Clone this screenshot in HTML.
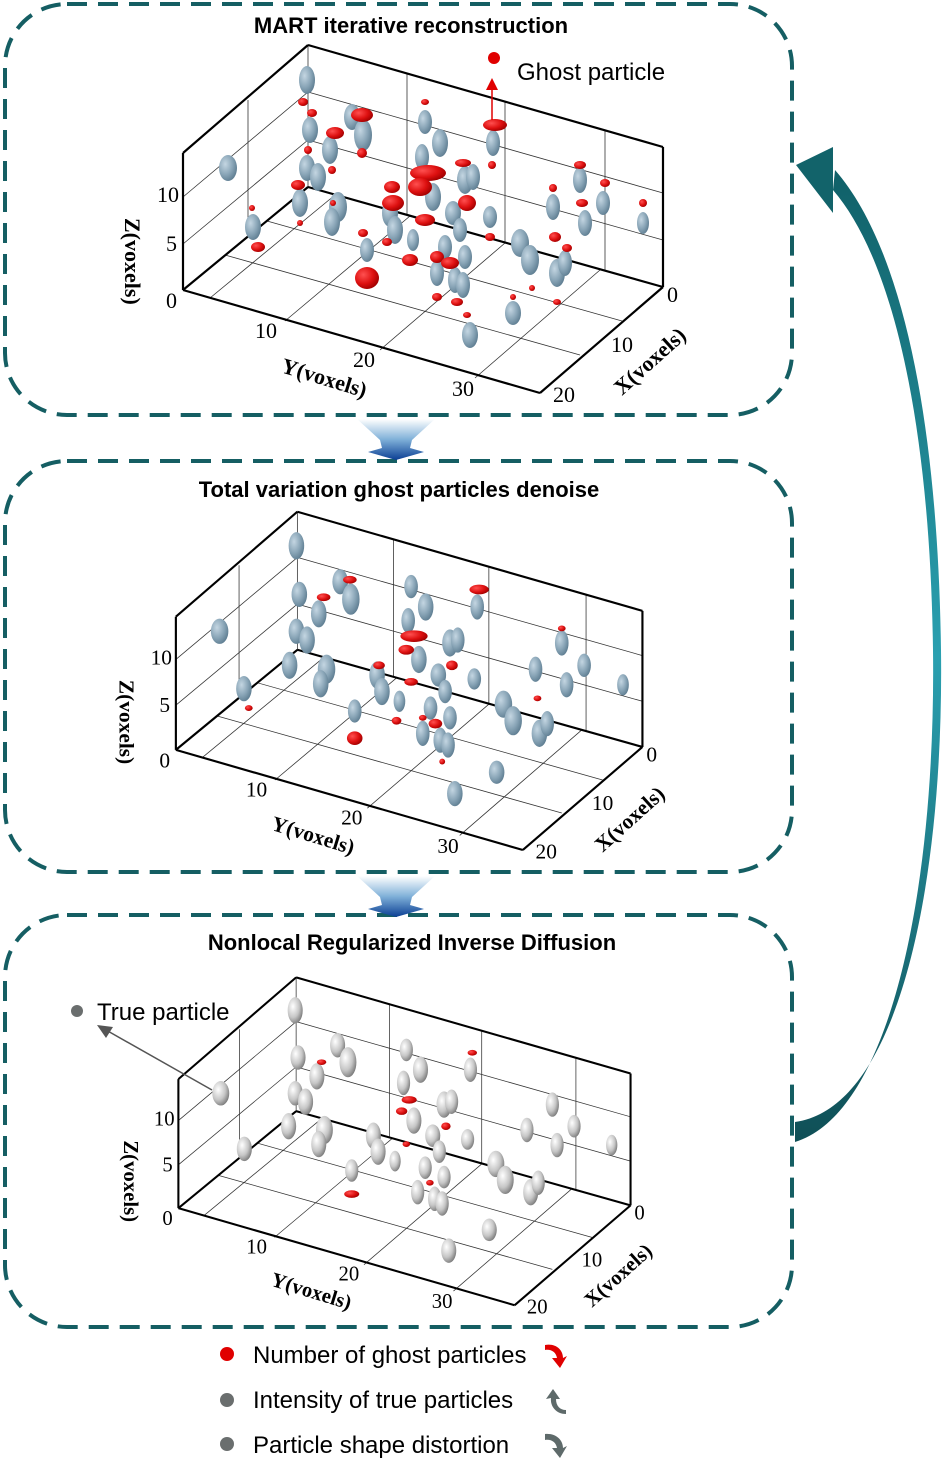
<!DOCTYPE html>
<html><head><meta charset="utf-8"><style>
html,body{margin:0;padding:0;background:#fff;}
svg{display:block;}
.t{font-family:"Liberation Sans",Arial,sans-serif;font-weight:bold;font-size:22px;fill:#000;}
.l{font-family:"Liberation Sans",Arial,sans-serif;font-size:24px;fill:#000;}
.s{font-family:"Liberation Serif",serif;font-size:22px;fill:#000;}
.sb{font-family:"Liberation Serif",serif;font-size:22px;font-weight:bold;fill:#000;}
</style></head><body>
<svg width="943" height="1460" viewBox="0 0 943 1460" xmlns="http://www.w3.org/2000/svg">
<defs>
<radialGradient id="gb" cx="35%" cy="35%" r="70%"><stop offset="0" stop-color="#c4d6e2"/><stop offset="0.6" stop-color="#88a4b6"/><stop offset="1" stop-color="#5f7e92"/></radialGradient>
<radialGradient id="gw" cx="35%" cy="35%" r="70%"><stop offset="0" stop-color="#ffffff"/><stop offset="0.6" stop-color="#c6c6c6"/><stop offset="1" stop-color="#7c7c7c"/></radialGradient>
<radialGradient id="gr" cx="35%" cy="35%" r="70%"><stop offset="0" stop-color="#ff5050"/><stop offset="0.6" stop-color="#dd1010"/><stop offset="1" stop-color="#a00000"/></radialGradient>
<linearGradient id="fun" x1="0" y1="0" x2="0" y2="1"><stop offset="0" stop-color="#ffffff"/><stop offset="0.5" stop-color="#7fb0d8"/><stop offset="1" stop-color="#0b3f94"/></linearGradient>
<linearGradient id="arc" x1="0" y1="1" x2="0" y2="0"><stop offset="0" stop-color="#0f4f56"/><stop offset="0.5" stop-color="#2aa0b0"/><stop offset="1" stop-color="#106068"/></linearGradient>

<g id="axes" fill="none">
  <g stroke="#333" stroke-width="0.8">
    <line x1="308" y1="45" x2="308" y2="187"/>
    <line x1="183" y1="153" x2="183" y2="290"/>
    <line x1="663" y1="147" x2="663" y2="287"/>
    <line x1="248" y1="100" x2="248" y2="236"/>
    <line x1="407" y1="73" x2="407" y2="215"/>
    <line x1="505" y1="102" x2="505" y2="243"/>
    <line x1="605" y1="130" x2="605" y2="271"/>
    <line x1="183" y1="244" x2="308" y2="140"/>
    <line x1="183" y1="197" x2="308" y2="92"/>
    <line x1="308" y1="140" x2="663" y2="240"/>
    <line x1="308" y1="92" x2="663" y2="193"/>
    <line x1="210" y1="298" x2="335" y2="195"/>
    <line x1="285" y1="321" x2="410" y2="216"/>
    <line x1="380" y1="350" x2="505" y2="243"/>
    <line x1="475" y1="378" x2="600" y2="270"/>
    <line x1="225" y1="255" x2="580" y2="355"/>
    <line x1="267" y1="221" x2="622" y2="321"/>
  </g>
  <g stroke="#000" stroke-width="2.2">
    <line x1="183" y1="153" x2="308" y2="45"/>
    <line x1="308" y1="45" x2="663" y2="147"/>
    <line x1="663" y1="147" x2="663" y2="287"/>
    <line x1="183" y1="153" x2="183" y2="290"/>
    <line x1="183" y1="290" x2="540" y2="393"/>
    <line x1="540" y1="393" x2="663" y2="287"/>
    <line x1="183" y1="290" x2="308" y2="187"/>
    <line x1="308" y1="187" x2="663" y2="287"/>
  </g>
  <g>
    <text class="s" x="157" y="202">10</text>
    <text class="s" x="166" y="251">5</text>
    <text class="s" x="166" y="308">0</text>
    <text class="s" x="255" y="338">10</text>
    <text class="s" x="353" y="367">20</text>
    <text class="s" x="452" y="396">30</text>
    <text class="s" x="667" y="302">0</text>
    <text class="s" x="611" y="352">10</text>
    <text class="s" x="553" y="402">20</text>
    <text class="sb" transform="translate(280,372) rotate(17)">Y(voxels)</text>
    <text class="sb" transform="translate(622,396) rotate(-42)">X(voxels)</text>
    <text class="sb" transform="translate(125,218) rotate(90)">Z(voxels)</text>
  </g>
</g>

<g id="blues">
<ellipse cx="307" cy="80" rx="8" ry="14"/>
<ellipse cx="228" cy="168" rx="9" ry="13"/>
<ellipse cx="310" cy="130" rx="8" ry="13"/>
<ellipse cx="330" cy="150" rx="8" ry="14"/>
<ellipse cx="307" cy="168" rx="8" ry="13"/>
<ellipse cx="318" cy="177" rx="8" ry="14"/>
<ellipse cx="300" cy="203" rx="8" ry="14"/>
<ellipse cx="338" cy="207" rx="9" ry="15"/>
<ellipse cx="332" cy="222" rx="8" ry="14"/>
<ellipse cx="253" cy="227" rx="8" ry="13"/>
<ellipse cx="352" cy="117" rx="8" ry="13"/>
<ellipse cx="363" cy="135" rx="9" ry="16"/>
<ellipse cx="425" cy="122" rx="7" ry="12"/>
<ellipse cx="440" cy="143" rx="8" ry="14"/>
<ellipse cx="422" cy="157" rx="7" ry="13"/>
<ellipse cx="433" cy="197" rx="8" ry="14"/>
<ellipse cx="390" cy="213" rx="8" ry="14"/>
<ellipse cx="395" cy="230" rx="8" ry="14"/>
<ellipse cx="367" cy="250" rx="7" ry="12"/>
<ellipse cx="413" cy="240" rx="6" ry="11"/>
<ellipse cx="445" cy="247" rx="7" ry="12"/>
<ellipse cx="437" cy="273" rx="7" ry="13"/>
<ellipse cx="453" cy="213" rx="8" ry="12"/>
<ellipse cx="465" cy="180" rx="8" ry="14"/>
<ellipse cx="473" cy="177" rx="7" ry="13"/>
<ellipse cx="460" cy="230" rx="7" ry="12"/>
<ellipse cx="490" cy="217" rx="7" ry="11"/>
<ellipse cx="493" cy="143" rx="7" ry="13"/>
<ellipse cx="465" cy="257" rx="7" ry="12"/>
<ellipse cx="455" cy="280" rx="7" ry="13"/>
<ellipse cx="463" cy="285" rx="7" ry="13"/>
<ellipse cx="520" cy="243" rx="9" ry="14"/>
<ellipse cx="530" cy="260" rx="9" ry="15"/>
<ellipse cx="557" cy="273" rx="8" ry="14"/>
<ellipse cx="565" cy="263" rx="7" ry="13"/>
<ellipse cx="553" cy="207" rx="7" ry="13"/>
<ellipse cx="580" cy="180" rx="7" ry="13"/>
<ellipse cx="585" cy="223" rx="7" ry="13"/>
<ellipse cx="603" cy="203" rx="7" ry="12"/>
<ellipse cx="643" cy="223" rx="6" ry="11"/>
<ellipse cx="513" cy="313" rx="8" ry="12"/>
<ellipse cx="470" cy="335" rx="8" ry="13"/>
</g>

<g id="reds1">
<ellipse cx="362" cy="115" rx="11" ry="7"/>
<ellipse cx="335" cy="133" rx="9" ry="6"/>
<ellipse cx="303" cy="102" rx="5" ry="4"/>
<ellipse cx="312" cy="113" rx="5" ry="4"/>
<ellipse cx="362" cy="153" rx="5" ry="5"/>
<ellipse cx="298" cy="185" rx="7" ry="5"/>
<ellipse cx="308" cy="150" rx="4" ry="4"/>
<ellipse cx="332" cy="170" rx="4" ry="4"/>
<ellipse cx="363" cy="233" rx="5" ry="4"/>
<ellipse cx="367" cy="278" rx="12" ry="11"/>
<ellipse cx="392" cy="187" rx="8" ry="6"/>
<ellipse cx="393" cy="203" rx="11" ry="8"/>
<ellipse cx="428" cy="173" rx="18" ry="8"/>
<ellipse cx="420" cy="187" rx="12" ry="9"/>
<ellipse cx="425" cy="220" rx="10" ry="6"/>
<ellipse cx="410" cy="260" rx="8" ry="6"/>
<ellipse cx="437" cy="257" rx="7" ry="6"/>
<ellipse cx="450" cy="263" rx="9" ry="6"/>
<ellipse cx="467" cy="203" rx="9" ry="8"/>
<ellipse cx="463" cy="163" rx="8" ry="4"/>
<ellipse cx="495" cy="125" rx="12" ry="6"/>
<ellipse cx="492" cy="165" rx="4" ry="4"/>
<ellipse cx="490" cy="237" rx="5" ry="4"/>
<ellipse cx="457" cy="302" rx="6" ry="4"/>
<ellipse cx="437" cy="297" rx="5" ry="4"/>
<ellipse cx="553" cy="188" rx="4" ry="4"/>
<ellipse cx="580" cy="165" rx="6" ry="4"/>
<ellipse cx="555" cy="237" rx="6" ry="5"/>
<ellipse cx="567" cy="248" rx="5" ry="4"/>
<ellipse cx="582" cy="203" rx="6" ry="4"/>
<ellipse cx="605" cy="183" rx="5" ry="4"/>
<ellipse cx="643" cy="203" rx="4" ry="4"/>
<ellipse cx="258" cy="247" rx="7" ry="5"/>
<ellipse cx="252" cy="208" rx="3" ry="3"/>
<ellipse cx="387" cy="242" rx="5" ry="4"/>
<ellipse cx="333" cy="203" rx="3" ry="3"/>
<ellipse cx="300" cy="223" rx="3" ry="3"/>
<ellipse cx="513" cy="297" rx="3" ry="3"/>
<ellipse cx="532" cy="288" rx="3" ry="3"/>
<ellipse cx="557" cy="302" rx="4" ry="3"/>
<ellipse cx="467" cy="315" rx="4" ry="3"/>
<ellipse cx="425" cy="102" rx="4" ry="3"/>
</g>
<g id="reds2">
<ellipse cx="362" cy="115" rx="7" ry="4"/>
<ellipse cx="335" cy="133" rx="7" ry="4"/>
<ellipse cx="367" cy="278" rx="8" ry="7"/>
<ellipse cx="428" cy="173" rx="14" ry="6"/>
<ellipse cx="420" cy="187" rx="8" ry="5"/>
<ellipse cx="425" cy="220" rx="7" ry="4"/>
<ellipse cx="450" cy="263" rx="7" ry="5"/>
<ellipse cx="467" cy="203" rx="6" ry="5"/>
<ellipse cx="495" cy="125" rx="10" ry="5"/>
<ellipse cx="392" cy="203" rx="6" ry="4"/>
<ellipse cx="258" cy="247" rx="4" ry="3"/>
<ellipse cx="555" cy="237" rx="4" ry="3"/>
<ellipse cx="580" cy="165" rx="4" ry="3"/>
<ellipse cx="437" cy="257" rx="4" ry="3"/>
<ellipse cx="410" cy="260" rx="5" ry="4"/>
<ellipse cx="457" cy="302" rx="3" ry="3"/>
</g>
<g id="reds3">
<ellipse cx="367" cy="275" rx="8" ry="4"/>
<ellipse cx="428" cy="175" rx="8" ry="4"/>
<ellipse cx="420" cy="187" rx="6" ry="4"/>
<ellipse cx="467" cy="203" rx="5" ry="4"/>
<ellipse cx="495" cy="125" rx="5" ry="3"/>
<ellipse cx="335" cy="135" rx="5" ry="3"/>
<ellipse cx="450" cy="263" rx="4" ry="3"/>
<ellipse cx="425" cy="222" rx="4" ry="3"/>
</g>
</defs>

<g fill="none" stroke="#155e63" stroke-width="4" stroke-dasharray="20 11">
<rect x="5" y="4" width="787" height="411" rx="62"/>
<rect x="5" y="461" width="787" height="411" rx="62"/>
<rect x="5" y="915" width="787" height="412" rx="62"/>
</g>

<g fill="url(#fun)">
<path d="M357,419 L435,419 L412,440 L410,448 L424,452 L396,460 L368,452 L382,448 L380,440 Z"/>
<path d="M357,876 L435,876 L412,897 L410,905 L424,909 L396,917 L368,909 L382,905 L380,897 Z"/>
</g>

<text class="t" x="411" y="33" text-anchor="middle">MART iterative reconstruction</text>
<text class="t" x="399" y="497" text-anchor="middle">Total variation ghost particles denoise</text>
<text class="t" x="412" y="950" text-anchor="middle">Nonlocal Regularized Inverse Diffusion</text>

<use href="#axes"/>
<use href="#blues" fill="url(#gb)"/>
<use href="#reds1" fill="url(#gr)"/>
<circle cx="494" cy="58" r="6" fill="#e00000"/>
<text class="l" x="517" y="80">Ghost particle</text>
<line x1="492" y1="120" x2="492" y2="88" stroke="#e00000" stroke-width="1.5"/>
<polygon points="492,78 486,90 498,90" fill="#e00000"/>

<g transform="translate(-2,468) scale(0.972)">
<use href="#axes"/>
<use href="#blues" fill="url(#gb)"/>
<use href="#reds2" fill="url(#gr)"/>
</g>

<g transform="translate(6,935) scale(0.942)">
<use href="#axes"/>
<use href="#blues" fill="url(#gw)"/>
<use href="#reds3" fill="url(#gr)"/>
</g>
<circle cx="77" cy="1011" r="6" fill="#6a6e6e"/>
<text class="l" x="97" y="1020">True particle</text>
<line x1="212" y1="1090" x2="106" y2="1030" stroke="#555" stroke-width="1.5"/>
<polygon points="97,1025 113,1027 106,1038" fill="#555"/>

<path d="M795,1122 C900,1108 944,880 941,650 C938,430 905,250 835,170 L833,190 C895,262 930,430 933,650 C936,880 893,1112 795,1142 Z" fill="url(#arc)"/>
<polygon points="796,165 833,147 833,213" fill="#12636a"/>

<circle cx="227" cy="1354" r="7" fill="#e00000"/>
<text class="l" x="253" y="1363">Number of ghost particles</text>
<circle cx="227" cy="1400" r="7" fill="#6a6e6e"/>
<text class="l" x="253" y="1408">Intensity of true particles</text>
<circle cx="227" cy="1444" r="7" fill="#6a6e6e"/>
<text class="l" x="253" y="1453">Particle shape distortion</text>
<path d="M545,1345 C556,1343 563,1350 563,1358 L567,1356 L560,1368 L552,1358 L557,1358 C556,1352 551,1349 545,1350 Z" fill="#e00000"/>
<path d="M566,1414 C556,1414 550,1406 551,1398 L546,1399 L553,1389 L560,1399 L556,1399 C556,1406 560,1410 566,1410 Z" fill="#5e6a6a"/>
<path d="M545,1434 C556,1433 563,1440 563,1448 L567,1446 L560,1458 L552,1448 L557,1448 C556,1442 551,1439 545,1440 Z" fill="#5e6a6a"/>
</svg>
</body></html>
